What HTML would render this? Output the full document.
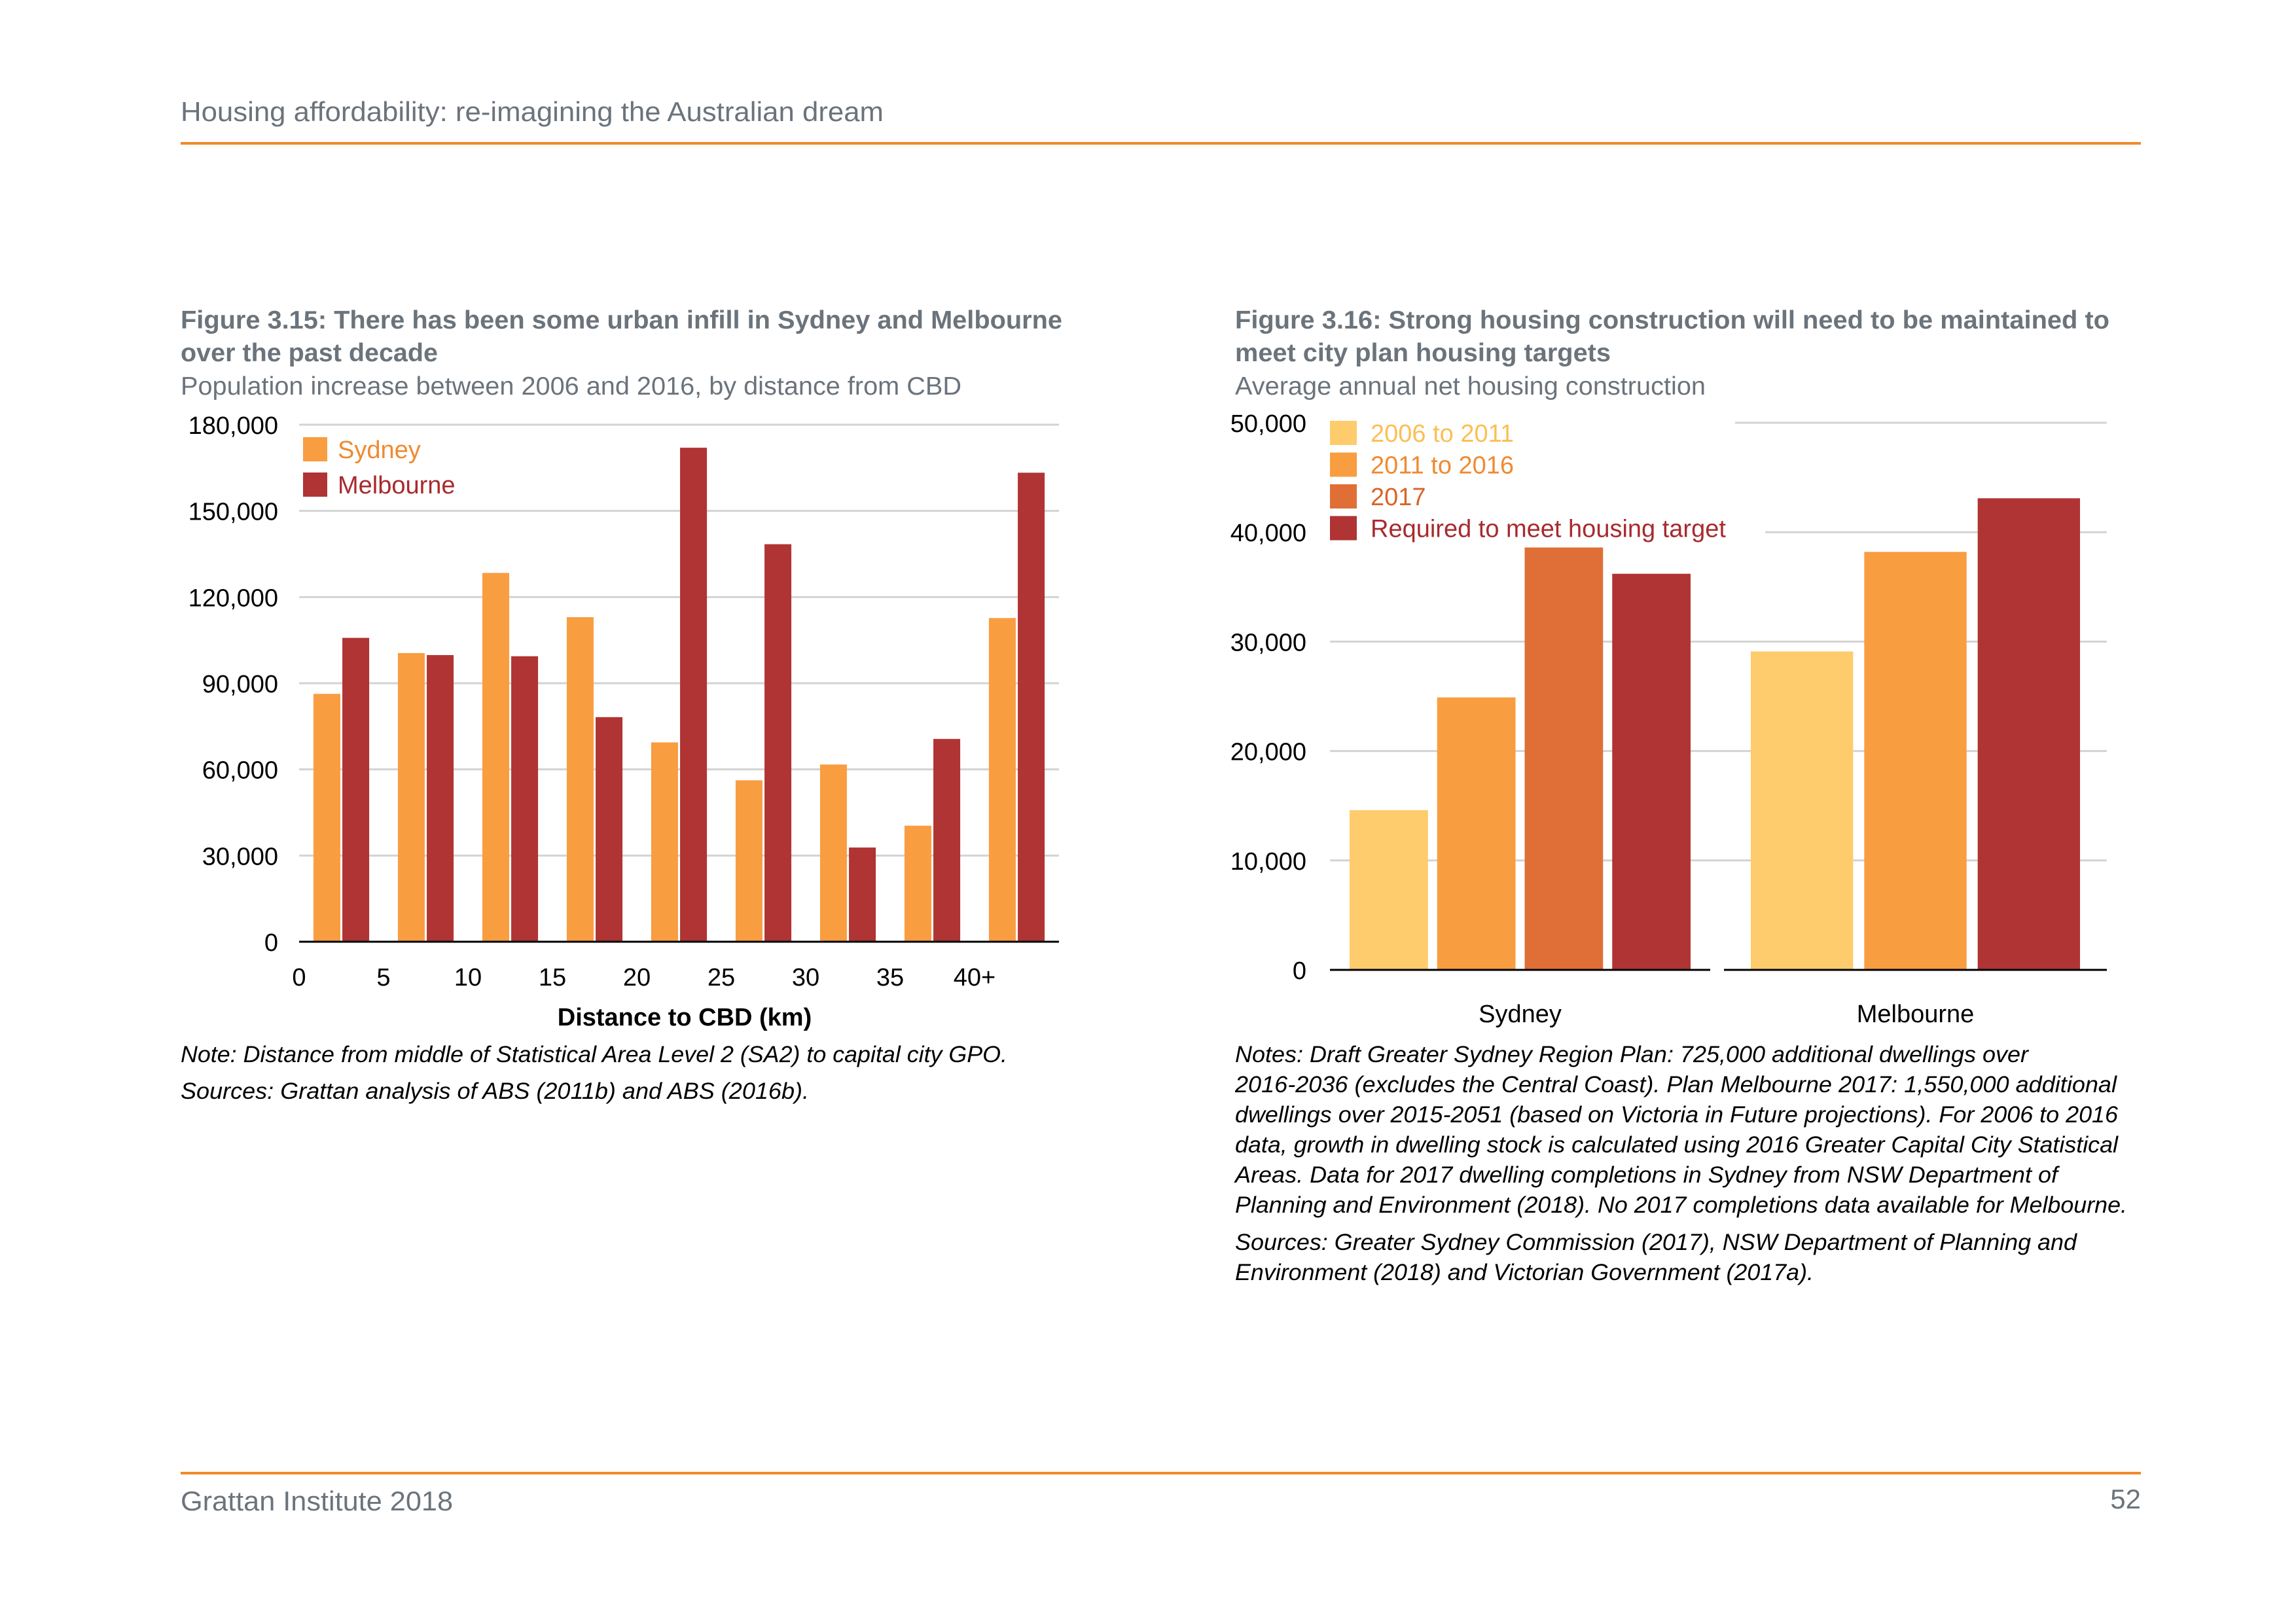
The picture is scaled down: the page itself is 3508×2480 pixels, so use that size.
<!DOCTYPE html>
<html><head><meta charset="utf-8"><style>
html,body{margin:0;padding:0;background:#fff}
svg{display:block}
text{font-family:"Liberation Sans",Arial,sans-serif}
</style></head><body>
<svg id="page" width="3508" height="2480" viewBox="0 0 3508 2480" xmlns="http://www.w3.org/2000/svg">
<text x="276" y="185" font-size="42" fill="#6b737b" textLength="1074" lengthAdjust="spacingAndGlyphs">Housing affordability: re-imagining the Australian dream</text>
<rect x="276" y="217" width="2995" height="4" fill="#f0892a"/>
<rect x="276" y="2249" width="2995" height="4" fill="#f0892a"/>
<text x="276" y="2308" font-size="42" fill="#6b737b" textLength="416" lengthAdjust="spacingAndGlyphs">Grattan Institute 2018</text>
<text x="3271" y="2305" font-size="42" fill="#6b737b" text-anchor="end">52</text>

<g>
<text x="276" y="502" font-size="39" font-weight="bold" fill="#6b737b" textLength="1347" lengthAdjust="spacingAndGlyphs">Figure 3.15: There has been some urban infill in Sydney and Melbourne</text>
<text x="276" y="552" font-size="39" font-weight="bold" fill="#6b737b" textLength="393" lengthAdjust="spacingAndGlyphs">over the past decade</text>
<text x="276" y="603" font-size="39" fill="#6b737b" textLength="1193" lengthAdjust="spacingAndGlyphs">Population increase between 2006 and 2016, by distance from CBD</text>
</g>
<g>
<text x="1887" y="502" font-size="39" font-weight="bold" fill="#6b737b" textLength="1336" lengthAdjust="spacingAndGlyphs">Figure 3.16: Strong housing construction will need to be maintained to</text>
<text x="1887" y="552" font-size="39" font-weight="bold" fill="#6b737b" textLength="574" lengthAdjust="spacingAndGlyphs">meet city plan housing targets</text>
<text x="1887" y="603" font-size="39" fill="#6b737b" textLength="719" lengthAdjust="spacingAndGlyphs">Average annual net housing construction</text>
</g>

<g id="left-chart"></g>
<g id="right-chart"></g>

<g font-style="italic" font-size="35" fill="#000">
<text x="276" y="1623" textLength="1263" lengthAdjust="spacingAndGlyphs">Note: Distance from middle of Statistical Area Level 2 (SA2) to capital city GPO.</text>
<text x="276" y="1679" textLength="960" lengthAdjust="spacingAndGlyphs">Sources: Grattan analysis of ABS (2011b) and ABS (2016b).</text>
</g>
<g font-style="italic" font-size="35" fill="#000">
<text x="1887" y="1623" textLength="1212" lengthAdjust="spacingAndGlyphs">Notes: Draft Greater Sydney Region Plan: 725,000 additional dwellings over</text>
<text x="1887" y="1669" textLength="1347" lengthAdjust="spacingAndGlyphs">2016-2036 (excludes the Central Coast). Plan Melbourne 2017: 1,550,000 additional</text>
<text x="1887" y="1715" textLength="1349" lengthAdjust="spacingAndGlyphs">dwellings over 2015-2051 (based on Victoria in Future projections). For 2006 to 2016</text>
<text x="1887" y="1761" textLength="1349" lengthAdjust="spacingAndGlyphs">data, growth in dwelling stock is calculated using 2016 Greater Capital City Statistical</text>
<text x="1887" y="1807" textLength="1257" lengthAdjust="spacingAndGlyphs">Areas. Data for 2017 dwelling completions in Sydney from NSW Department of</text>
<text x="1887" y="1853" textLength="1363" lengthAdjust="spacingAndGlyphs">Planning and Environment (2018). No 2017 completions data available for Melbourne.</text>
<text x="1887" y="1910" textLength="1286" lengthAdjust="spacingAndGlyphs">Sources: Greater Sydney Commission (2017), NSW Department of Planning and</text>
<text x="1887" y="1956" textLength="884" lengthAdjust="spacingAndGlyphs">Environment (2018) and Victorian Government (2017a).</text>
</g>
</svg>
<script>
// ---- Figure 3.15 data ----
const distCategories = ["0","5","10","15","20","25","30","35","40+"];
const sydneyValues = [86300, 100500, 128400, 113000, 69400, 56200, 61700, 40400, 112700];
const melbourneValues = [105800, 99800, 99400, 78200, 172000, 138400, 32800, 70600, 163300];
const leftTicks = [0, 30000, 60000, 90000, 120000, 150000, 180000];
const leftTickLabels = ["0","30,000","60,000","90,000","120,000","150,000","180,000"];
// ---- Figure 3.16 data ----
const cities = ["Sydney","Melbourne"];
const seriesNames = ["2006 to 2011","2011 to 2016","2017","Required to meet housing target"];
const sydneySeries = [14600, 24900, 38600, 36200];
const melbourneSeries = [29100, 38200, 43100];
const rightTicks = [0, 10000, 20000, 30000, 40000, 50000];
const rightTickLabels = ["0","10,000","20,000","30,000","40,000","50,000"];

const NS = "http://www.w3.org/2000/svg";
function mk(parent, tag, attrs, txt){
  const e = document.createElementNS(NS, tag);
  for (const k in attrs) e.setAttribute(k, attrs[k]);
  if (txt !== undefined) e.textContent = txt;
  parent.appendChild(e);
  return e;
}
const ORANGE = "#f99d41", RED = "#b03434", LIGHT = "#fecc6c", DARK = "#df6f37";

// ---------- Left chart ----------
(function(){
  const g = document.getElementById("left-chart");
  const x0 = 457, x1 = 1618, yTop = 649, yBot = 1439, yMax = 180000;
  const y = v => yBot - (v / yMax) * (yBot - yTop);
  const groupW = (x1 - x0) / distCategories.length;
  const gx = i => x0 + i * groupW;
  leftTicks.forEach((t, i) => {
    if (t > 0) {
      const l = mk(g, "line", {x1: x0, x2: x1, y1: y(t), y2: y(t), stroke: "#d3d3d3", "stroke-width": 3});
      
      
    }
    const tl = mk(g, "text", {x: 425, y: y(t) + 14, "font-size": 38, "text-anchor": "end", fill: "#000"}, leftTickLabels[i]);
    
    
  });
  distCategories.forEach((c, i) => {
    const bw = groupW * 0.318;
    const s = mk(g, "rect", {x: gx(i) + groupW * 0.17, y: y(sydneyValues[i]), width: bw, height: yBot - y(sydneyValues[i]), fill: ORANGE});
    
    
    const m = mk(g, "rect", {x: gx(i) + groupW * 0.512, y: y(melbourneValues[i]), width: bw, height: yBot - y(melbourneValues[i]), fill: RED});
    
    
    const xl = mk(g, "text", {x: gx(i), y: 1506, "font-size": 38, "text-anchor": "middle", fill: "#000"}, c);
    
    
  });
  const ax = mk(g, "line", {x1: x0, x2: x1, y1: yBot, y2: yBot, stroke: "#000", "stroke-width": 3});
  
  
  const at = mk(g, "text", {x: 1046, y: 1567, "font-size": 38, "font-weight": "bold", "text-anchor": "middle", fill: "#000"}, "Distance to CBD (km)");
  
  
  [["Sydney", ORANGE, "#f08a30"], ["Melbourne", RED, "#a82a2e"]].forEach((L, i) => {
    const yy = 668 + i * 54;
    const sw = mk(g, "rect", {x: 463, y: yy, width: 37, height: 37, fill: L[1]});
    
    
    const lt = mk(g, "text", {x: 516, y: yy + 32, "font-size": 38, fill: L[2]}, L[0]);
    
    
  });
})();

// ---------- Right chart ----------
(function(){
  const g = document.getElementById("right-chart");
  const x0 = 2032, x1 = 3219, yTop = 646, yBot = 1482, yMax = 50000;
  const y = v => yBot - (v / yMax) * (yBot - yTop);
  const colors = [LIGHT, ORANGE, DARK, RED];
  const groups = [
    {name: cities[0], vals: sydneySeries, series: [0,1,2,3], gs: 2032, ge: 2613, pad: 30, gap: 14},
    {name: cities[1], vals: melbourneSeries, series: [0,1,3], gs: 2634, ge: 3219, pad: 41, gap: 17}
  ];
  rightTicks.forEach((t, i) => {
    if (t > 0) {
      const start = t === 50000 ? 2651 : (t === 40000 ? 2697 : x0);
      const l = mk(g, "line", {x1: start, x2: x1, y1: y(t), y2: y(t), stroke: "#d3d3d3", "stroke-width": 3});
      
      
    }
    const tl = mk(g, "text", {x: 1996, y: y(t) + 14, "font-size": 38, "text-anchor": "end", fill: "#000"}, rightTickLabels[i]);
    
    
  });
  groups.forEach(G => {
    const n = G.vals.length;
    const bw = ((G.ge - G.gs) - 2 * G.pad - (n - 1) * G.gap) / n;
    G.vals.forEach((v, j) => {
      const r = mk(g, "rect", {x: G.gs + G.pad + j * (bw + G.gap), y: y(v), width: bw, height: yBot - y(v), fill: colors[G.series[j]]});
      
      
    });
    const ax = mk(g, "line", {x1: G.gs, x2: G.ge, y1: yBot, y2: yBot, stroke: "#000", "stroke-width": 3});
    
    
    const cl = mk(g, "text", {x: (G.gs + G.ge) / 2, y: 1562, "font-size": 38, "text-anchor": "middle", fill: "#000"}, G.name);
    
    
  });
  const textCols = ["#fbbf55", "#f08a30", "#d9642a", "#a82a2e"];
  seriesNames.forEach((s, i) => {
    const yy = 643 + i * 48.5;
    const sw = mk(g, "rect", {x: 2032, y: yy, width: 41, height: 37, fill: colors[i]});
    
    
    const lt = mk(g, "text", {x: 2094, y: yy + 32, "font-size": 38, fill: textCols[i]}, s);
    
    
  });
})();
</script>
</body></html>
